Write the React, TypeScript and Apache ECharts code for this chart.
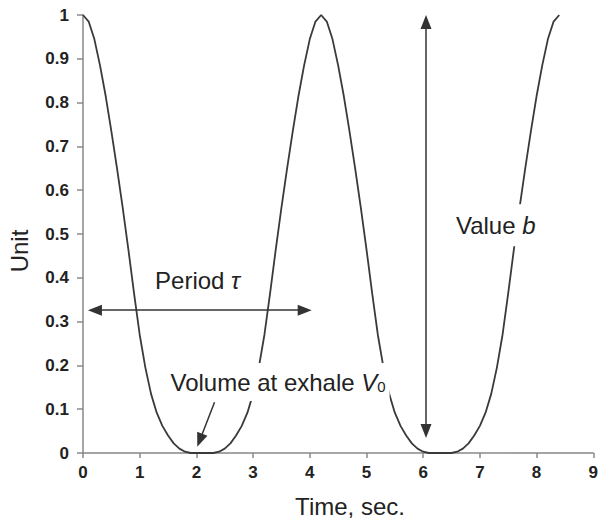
import React, { useEffect, useRef } from "react";
import * as echarts from "echarts";

const time = [
  0.0, 0.1, 0.2, 0.3, 0.4, 0.5, 0.6, 0.7, 0.8, 0.9, 1.0, 1.1, 1.2, 1.3, 1.4, 1.5, 1.6, 1.7, 1.8, 1.9, 2.0, 2.1,
  2.2, 2.3, 2.4, 2.5, 2.6, 2.7, 2.8, 2.9, 3.0, 3.1, 3.2, 3.3, 3.4, 3.5, 3.6, 3.7, 3.8, 3.9, 4.0, 4.1, 4.2,
  4.3, 4.4, 4.5, 4.6, 4.7, 4.8, 4.9, 5.0, 5.1, 5.2, 5.3, 5.4, 5.5, 5.6, 5.7, 5.8, 5.9, 6.0, 6.1, 6.2, 6.3,
  6.4, 6.5, 6.6, 6.7, 6.8, 6.9, 7.0, 7.1, 7.2, 7.3, 7.4, 7.5, 7.6, 7.7, 7.8, 7.9, 8.0, 8.1, 8.2, 8.3, 8.4,
];

const unit = [
  1.0, 0.985, 0.945, 0.885, 0.815, 0.735, 0.65, 0.56, 0.465, 0.365, 0.27, 0.195, 0.135, 0.092, 0.062, 0.04, 0.022, 0.01, 0.003, 0.0, 0.0, 0.0,
  0.0, 0.0, 0.003, 0.01, 0.022, 0.04, 0.062, 0.092, 0.135, 0.195, 0.27, 0.365, 0.465, 0.56, 0.65, 0.735, 0.815, 0.885, 0.945, 0.985, 1.0,
  0.985, 0.945, 0.885, 0.815, 0.735, 0.65, 0.56, 0.465, 0.365, 0.27, 0.195, 0.135, 0.092, 0.062, 0.04, 0.022, 0.01, 0.003, 0.0, 0.0, 0.0,
  0.0, 0.0, 0.003, 0.01, 0.022, 0.04, 0.062, 0.092, 0.135, 0.195, 0.27, 0.365, 0.465, 0.56, 0.65, 0.735, 0.815, 0.885, 0.945, 0.985, 1.0,
];

// annotation anchors in data coordinates [time, unit]
const periodArrow = [[0.21, 0.326], [3.91, 0.326]];
const valueArrow = [[6.05, 0.984], [6.05, 0.05]];
const exhaleArrow = [[2.32, 0.116], [2.06, 0.029]];
const periodLabel = [2.02, 0.393];
const exhaleLabel = [3.44, 0.162];
const valueLabel = [7.28, 0.52];

const FONT = "'Liberation Sans', Arial, sans-serif";
const TEXT = "#222";
const ANN = 24;

export default function App() {
  const ref = useRef<HTMLDivElement>(null);

  useEffect(() => {
    document.body.style.margin = "0";
    const chart = echarts.init(ref.current!, null, { renderer: "svg" });
    const data = time.map((t, i) => [t, unit[i]]);

    const labelBase = {
      show: true,
      position: "inside",
      color: TEXT,
      fontFamily: FONT,
      fontSize: ANN,
      backgroundColor: "#fff",
    };
    const reg = { fontFamily: FONT, fontSize: ANN, color: TEXT };
    const ital = { fontFamily: FONT, fontSize: ANN, color: TEXT, fontStyle: "italic" };

    chart.setOption({
      animation: false,
      backgroundColor: "#fff",
      grid: { left: 83, right: 6, top: 15, bottom: 66 },
      xAxis: {
        type: "value",
        min: 0,
        max: 9,
        interval: 1,
        axisLine: { show: true, lineStyle: { color: "#888", width: 1.5 } },
        axisTick: { show: true, length: 5, lineStyle: { color: "#888", width: 1.5 } },
        splitLine: { show: false },
        axisLabel: { color: TEXT, fontFamily: FONT, fontWeight: "bold", fontSize: 17, margin: 11 },
      },
      yAxis: {
        type: "value",
        min: 0,
        max: 1,
        interval: 0.1,
        axisLine: { show: true, lineStyle: { color: "#888", width: 1.5 } },
        axisTick: { show: true, length: 6, lineStyle: { color: "#888", width: 1.5 } },
        splitLine: { show: false },
        axisLabel: { color: TEXT, fontFamily: FONT, fontWeight: "bold", fontSize: 17, margin: 14 },
      },
      graphic: [
        {
          type: "text",
          x: 19,
          y: 251,
          rotation: Math.PI / 2,
          style: {
            text: "Unit",
            font: `24px ${FONT}`,
            fill: TEXT,
            align: "center",
            verticalAlign: "middle",
          },
        },
        {
          type: "text",
          x: 350,
          y: 506,
          style: {
            text: "Time, sec.",
            font: `24px ${FONT}`,
            fill: TEXT,
            align: "center",
            verticalAlign: "middle",
          },
        },
      ],
      series: [
        {
          type: "line",
          data,
          showSymbol: false,
          symbol: "none",
          lineStyle: { color: "#3a3a3a", width: 1.8 },
          silent: true,
          markLine: {
            silent: true,
            animation: false,
            label: { show: false },
            lineStyle: { color: "#333", width: 1.5, type: "solid" },
            symbolSize: [11, 14],
            data: [
              [
                { coord: periodArrow[0], symbol: "triangle" },
                { coord: periodArrow[1], symbol: "triangle" },
              ],
              [
                { coord: valueArrow[0], symbol: "triangle" },
                { coord: valueArrow[1], symbol: "triangle" },
              ],
              [
                { coord: exhaleArrow[0], symbol: "none" },
                { coord: exhaleArrow[1], symbol: "triangle" },
              ],
            ],
          },
          markPoint: {
            silent: true,
            animation: false,
            symbol: "circle",
            symbolSize: 1,
            itemStyle: { color: "rgba(0,0,0,0)" },
            z: 10,
            data: [
              {
                coord: periodLabel,
                label: {
                  ...labelBase,
                  padding: [4, 4],
                  formatter: "{r|Period }{i|τ}",
                  rich: { r: reg, i: ital },
                },
              },
              {
                coord: exhaleLabel,
                label: {
                  ...labelBase,
                  padding: [7, 4],
                  formatter: "{r|Volume at exhale }{i|V}{s|0}",
                  rich: {
                    r: reg,
                    i: ital,
                    s: { fontFamily: FONT, fontSize: 15, color: TEXT, verticalAlign: "bottom" },
                  },
                },
              },
              {
                coord: valueLabel,
                label: {
                  ...labelBase,
                  padding: [9, 4],
                  formatter: "{r|Value }{i|b}",
                  rich: { r: reg, i: ital },
                },
              },
            ],
          },
        },
      ],
    });

    return () => chart.dispose();
  }, []);

  return <div ref={ref} style={{ width: 601, height: 519 }} />;
}
